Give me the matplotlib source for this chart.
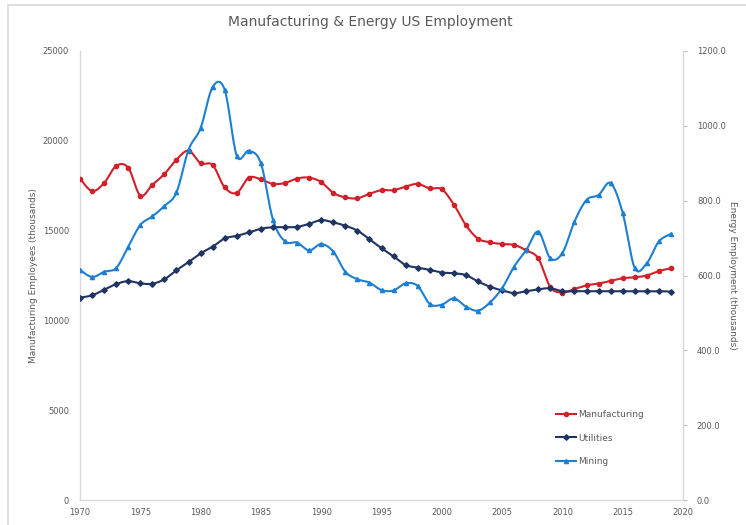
import numpy as np
import matplotlib.pyplot as plt
from matplotlib.lines import Line2D
from matplotlib.patches import Rectangle

years = list(range(1970, 2020))

manufacturing = [17900, 17200, 17650, 18600, 18500, 16950, 17550, 18150, 18950, 19450,
                 18750, 18650, 17400, 17100, 17950, 17850, 17600, 17650, 17900, 17950,
                 17700, 17100, 16850, 16800, 17050, 17250, 17250, 17450, 17600, 17350,
                 17300, 16450, 15300, 14550, 14350, 14250, 14200, 13900, 13450, 11850,
                 11550, 11750, 11950, 12050, 12200, 12350, 12400, 12500, 12750, 12900]

utilities = [541, 547, 562, 577, 585, 579, 578, 590, 614, 636,
             659, 677, 699, 706, 715, 725, 729, 729, 730, 738,
             748, 742, 733, 720, 697, 673, 651, 628, 621, 615,
             608, 606, 601, 584, 570, 560, 553, 558, 563, 566,
             558, 558, 558, 558, 558, 558, 558, 558, 558, 557]

mining = [615, 596, 610, 620, 677, 735, 758, 786, 822, 936,
          994, 1104, 1096, 920, 933, 900, 749, 691, 688, 667,
          684, 664, 610, 590, 581, 561, 560, 579, 572, 524,
          522, 539, 517, 506, 528, 566, 624, 668, 717, 646,
          660, 744, 802, 815, 847, 767, 620, 633, 691, 711]

RED = '#D0202A'
NAVY = '#1F3462'
BLUE = '#1E7FD0'
GRAY = '#595959'


def smooth(x, y, n=16):
    # bezier through the points, like the smoothed lines of a spreadsheet chart
    x = np.asarray(x, float)
    y = np.asarray(y, float)
    px = np.concatenate([[x[0]], x, [x[-1]]])
    py = np.concatenate([[y[0]], y, [y[-1]]])
    t = np.linspace(0, 1, n, endpoint=False)[:, None]
    xs, ys = [], []
    for i in range(1, len(px) - 2):
        p0 = np.array([px[i], py[i]])
        p3 = np.array([px[i + 1], py[i + 1]])
        p1 = p0 + (np.array([px[i + 1], py[i + 1]]) - np.array([px[i - 1], py[i - 1]])) / 6
        p2 = p3 - (np.array([px[i + 2], py[i + 2]]) - np.array([px[i], py[i]])) / 6
        b = ((1 - t) ** 3) * p0 + 3 * ((1 - t) ** 2) * t * p1 + 3 * (1 - t) * t ** 2 * p2 + t ** 3 * p3
        xs.extend(b[:, 0])
        ys.extend(b[:, 1])
    xs.append(x[-1])
    ys.append(y[-1])
    return xs, ys


fig = plt.figure(figsize=(7.46, 5.25), dpi=100)
fig.patches.append(Rectangle((8 / 746, -0.05), 1.1, 1 - 5 / 525 + 0.05, transform=fig.transFigure,
                             fill=False, edgecolor='#D9D9D9', linewidth=1.2))

ax = fig.add_axes([80 / 746, 25 / 525, 603 / 746, 449 / 525])
ax2 = ax.twinx()

LW = 1.5
sx, sy = smooth(years, manufacturing)
ax.plot(sx, sy, color=RED, lw=LW, zorder=3)
ax.plot(years, manufacturing, 'o', color=RED, ms=3, zorder=4)

sx, sy = smooth(years, utilities)
ax2.plot(sx, sy, color=NAVY, lw=LW, zorder=3)
ax2.plot(years, utilities, 'D', color=NAVY, ms=2.8, zorder=4)

sx, sy = smooth(years, mining)
ax2.plot(sx, sy, color=BLUE, lw=LW, zorder=3)
ax2.plot(years, mining, '^', color=BLUE, ms=3, zorder=4)

ax.set_xlim(1970, 2020)
ax.set_ylim(0, 25000)
ax2.set_ylim(0, 1200)
ax.set_xticks(range(1970, 2021, 5))
ax.set_yticks(range(0, 25001, 5000))
ax2.set_yticks(range(0, 1201, 200))
ax2.set_yticklabels([f'{v:.1f}' for v in range(0, 1201, 200)])

for a in (ax, ax2):
    for s in a.spines.values():
        s.set_visible(False)
    a.tick_params(labelsize=6, colors=GRAY, length=0, pad=8)
ax.tick_params(axis='x', pad=6)
ax.spines['left'].set_visible(True)
ax.spines['bottom'].set_visible(True)
ax2.spines['right'].set_visible(True)
for s in (ax.spines['left'], ax.spines['bottom'], ax2.spines['right']):
    s.set_color('#D9D9D9')
    s.set_linewidth(1.0)
ax2.tick_params(axis='y', length=3, color='#BFBFBF', direction='out', pad=7)

ax.set_ylabel('Manufacturing Employees (thousands)', fontsize=6.5, color=GRAY, labelpad=3)
ax2.set_ylabel('Energy Employment (thousands)', fontsize=6.5, color=GRAY, rotation=270, labelpad=8)

fig.text(0.497, 1 - 22 / 525, 'Manufacturing & Energy US Employment', ha='center', va='center',
         fontsize=10, color=GRAY)

handles = [Line2D([], [], color=RED, lw=LW, marker='o', ms=3),
           Line2D([], [], color=NAVY, lw=LW, marker='D', ms=2.8),
           Line2D([], [], color=BLUE, lw=LW, marker='^', ms=3)]
ax.legend(handles, ['Manufacturing', 'Utilities', 'Mining'], loc='upper left',
          bbox_to_anchor=((548 - 80) / 603, (500 - 402) / 449), frameon=False, fontsize=6.5,
          labelcolor=GRAY, handlelength=2.2, handletextpad=0.2, labelspacing=1.6)

fig.savefig('out.png', dpi=100)
